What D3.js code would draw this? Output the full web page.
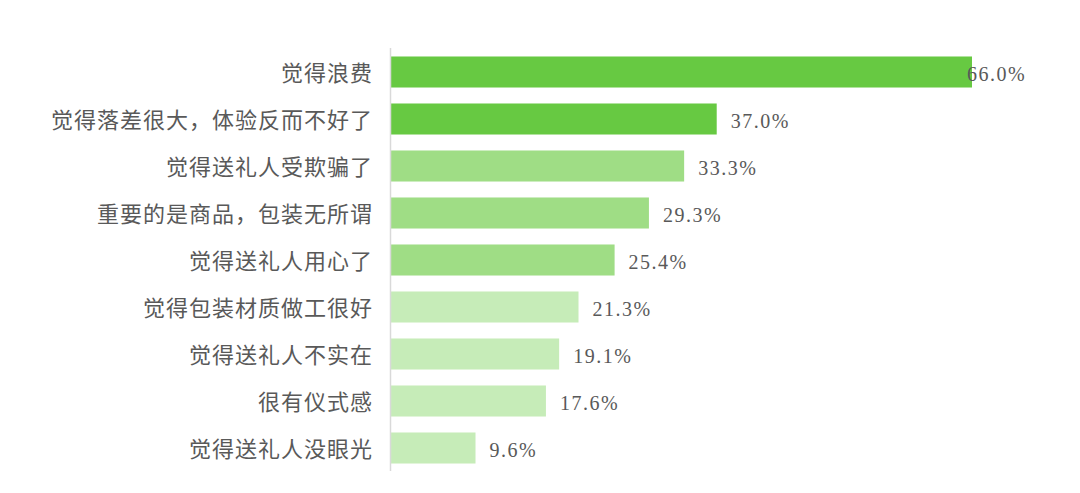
<!DOCTYPE html>
<html>
<head>
<meta charset="utf-8">
<script src="https://cdn.jsdelivr.net/npm/d3@7"></script>
<style>
  body { margin: 0; background: #fff; }
  svg { display: block; }
</style>
</head>
<body>
<svg id="chart"></svg>
<script>
const categories = [
  '觉得浪费',
  '觉得落差很大，体验反而不好了',
  '觉得送礼人受欺骗了',
  '重要的是商品，包装无所谓',
  '觉得送礼人用心了',
  '觉得包装材质做工很好',
  '觉得送礼人不实在',
  '很有仪式感',
  '觉得送礼人没眼光'
];
const values = [66.0, 37.0, 33.3, 29.3, 25.4, 21.3, 19.1, 17.6, 9.6];

const W = 1080, H = 493;
const left = 391;

const svg = d3.select('#chart').attr('width', W).attr('height', H);

const x = d3.scaleLinear().domain([0, 66]).range([left, left + 581]);
const y = d3.scaleBand()
  .domain(categories)
  .range([48.5, 471.5])
  .paddingInner(0.34)
  .paddingOuter(0.17);

// shade by value tier
const color = d3.scaleThreshold()
  .domain([25, 35])
  .range(['#c6ecb8', '#9fdd85', '#67c942']);

const rows = categories.map((c, i) => ({ c, v: values[i] }));

svg.selectAll('rect.bar')
  .data(rows)
  .enter()
  .append('rect')
  .attr('class', 'bar')
  .attr('x', x(0))
  .attr('y', d => y(d.c))
  .attr('width', d => x(d.v) - x(0))
  .attr('height', y.bandwidth())
  .attr('fill', d => color(d.v));

// axis line, no ticks
svg.append('line')
  .attr('x1', x(0) - 0.5).attr('x2', x(0) - 0.5)
  .attr('y1', 48).attr('y2', 471)
  .attr('stroke', '#d9d9d9')
  .attr('stroke-width', 1.5);

svg.selectAll('text.cat')
  .data(rows)
  .enter()
  .append('text')
  .attr('class', 'cat')
  .attr('x', 373)
  .attr('y', d => y(d.c) + y.bandwidth() / 2)
  .attr('dy', '0.42em')
  .attr('text-anchor', 'end')
  .attr('font-family', '"Noto Sans CJK SC", sans-serif')
  .attr('font-size', 22)
  .attr('letter-spacing', 1)
  .attr('fill', '#595959')
  .text(d => d.c);

svg.selectAll('text.val')
  .data(rows)
  .enter()
  .append('text')
  .attr('class', 'val')
  .attr('x', d => Math.min(x(d.v) + 14, W - 113))
  .attr('y', d => y(d.c) + y.bandwidth() / 2)
  .attr('dy', '0.45em')
  .attr('font-family', '"Liberation Serif", "DejaVu Serif", serif')
  .attr('font-size', 20)
  .attr('letter-spacing', 1.5)
  .attr('fill', '#595959')
  .text(d => d.v.toFixed(1) + '%');
</script>
</body>
</html>
